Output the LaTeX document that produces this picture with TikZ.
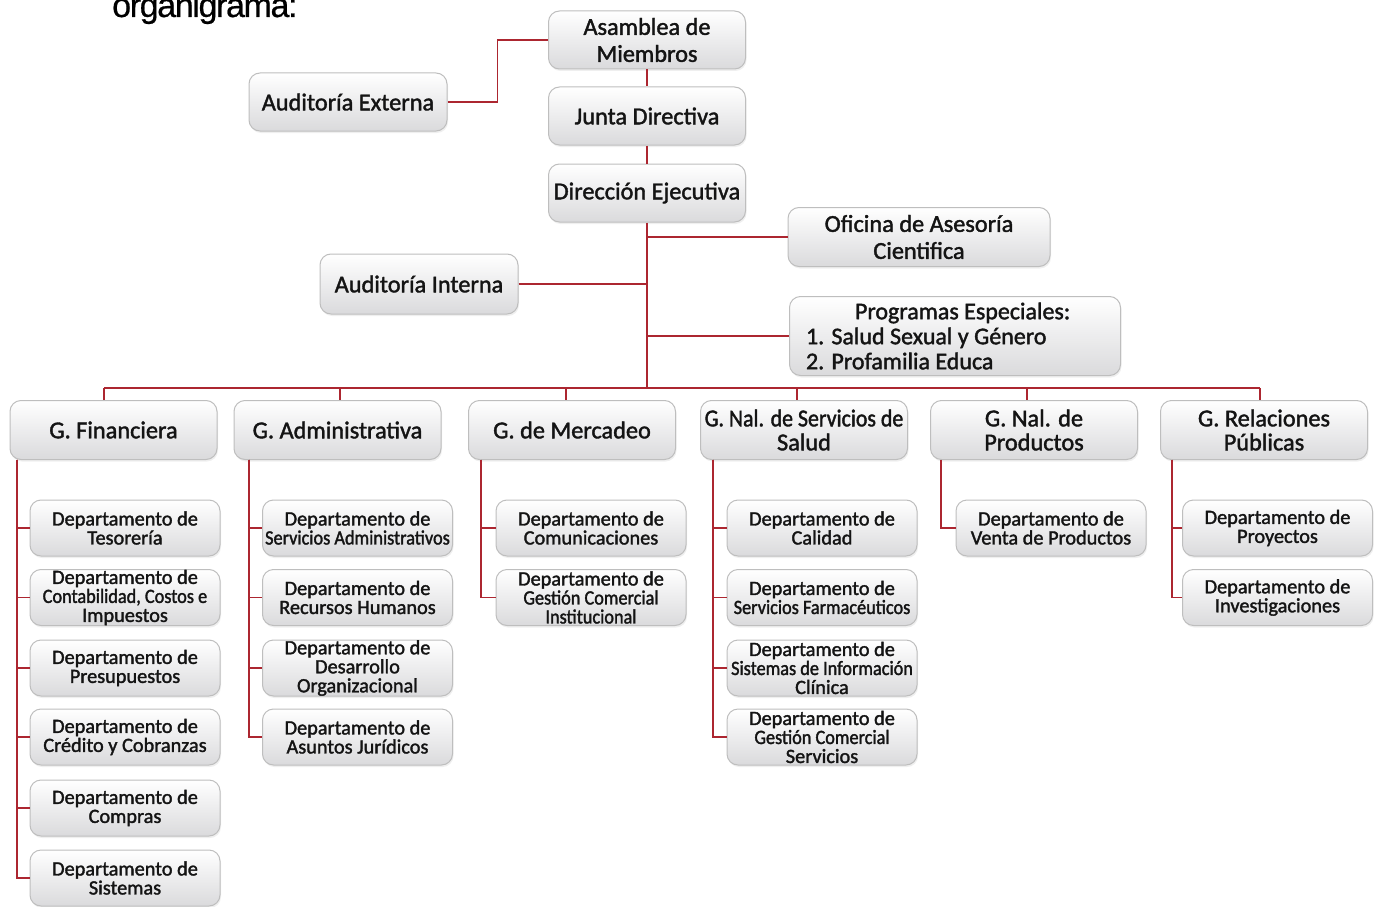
\documentclass[tikz,border=0pt]{standalone}
\usepackage{fontspec}
\setmainfont[FakeBold=1.6]{Carlito}
\newfontfamily\condfont[FakeStretch=0.9,FakeBold=1.6]{Carlito}
\newfontfamily\titlefont[LetterSpace=-4,FakeBold=0.6]{Liberation Sans}
\usetikzlibrary{shadows}
\definecolor{conn}{RGB}{172,38,48}
\definecolor{boxline}{RGB}{190,190,190}
\definecolor{boxbot}{RGB}{218,218,220}
\tikzset{
  box/.style={draw=boxline, line width=1pt, rounded corners=11pt,
    top color=white, bottom color=boxbot, align=center, inner sep=0pt,
    text=black!92, drop shadow={opacity=0.12, shadow xshift=1pt, shadow yshift=-2pt}},
  topbox/.style={box, minimum width=197pt, minimum height=58pt,
    font=\fontsize{24.3}{27}\selectfont},
  mgr/.style={box, minimum width=207pt, minimum height=59pt,
    font=\fontsize{24.3}{24}\selectfont},
  dept/.style={box, minimum width=190pt, minimum height=56pt,
    font=\fontsize{20.3}{19}\selectfont},
  link/.style={draw=conn, line width=1.7pt}
}
\begin{document}
\begin{tikzpicture}[x=1pt,y=-1pt]
\useasboundingbox[fill=white] (0,0) rectangle (1374,907);
% title
\node[anchor=base west, inner sep=0pt, font=\titlefont\fontsize{34}{34}\selectfont] (title) at (112,17) {organigrama:};
% top boxes
\node[topbox] (AM) at (647,40) {Asamblea de\\Miembros};
\node[topbox] (JD) at (647,116) {Junta Directiva};
\node[topbox] (DE) at (647,193) {Dirección Ejecutiva};
\node[topbox, minimum width=198pt] (AE) at (348,102) {Auditoría Externa};
\node[topbox, minimum width=262pt, minimum height=59pt] (OA) at (919,237) {Oficina de Asesoría\\Cientifica};
\node[topbox, minimum width=198pt, minimum height=60pt] (AI) at (419,284) {Auditoría Interna};
\node[topbox, minimum width=331pt, minimum height=79pt,
      font=\fontsize{24}{25}\selectfont] (PE) at (955,336)
  {\makebox[298pt][l]{\hspace*{49pt}Programas Especiales:}\\
   \makebox[298pt][l]{1. Salud Sexual y Género}\\
   \makebox[298pt][l]{2. Profamilia Educa}};
% managers
\node[mgr] (GF) at (113.5,430) {G. Financiera};
\node[mgr] (GA) at (337.5,430) {G. Administrativa};
\node[mgr] (GM) at (572,430) {G. de Mercadeo};
\node[mgr] (GS) at (804,430) {{\condfont G. Nal. de Servicios de}\\Salud};
\node[mgr] (GP) at (1034,430) {G. Nal. de\\Productos};
\node[mgr] (GR) at (1264,430) {G. Relaciones\\Públicas};
% departments: Financiera
\node[dept] (F1) at (125,528) {Departamento de\\Tesorería};
\node[dept] (F2) at (125,597.5) {Departamento de\\{\condfont Contabilidad, Costos e}\\Impuestos};
\node[dept] (F3) at (125,668) {Departamento de\\Presupuestos};
\node[dept] (F4) at (125,737) {Departamento de\\Crédito y Cobranzas};
\node[dept] (F5) at (125,808) {Departamento de\\Compras};
\node[dept] (F6) at (125,878) {Departamento de\\Sistemas};
% Administrativa
\node[dept] (A1) at (357.5,528) {Departamento de\\{\condfont Servicios Administrativos}};
\node[dept] (A2) at (357.5,597.5) {Departamento de\\Recursos Humanos};
\node[dept] (A3) at (357.5,668) {Departamento de\\Desarrollo\\Organizacional};
\node[dept] (A4) at (357.5,737) {Departamento de\\Asuntos Jurídicos};
% Mercadeo
\node[dept] (M1) at (591,528) {Departamento de\\Comunicaciones};
\node[dept] (M2) at (591,597.5) {Departamento de\\{\condfont Gestión Comercial}\\{\condfont Institucional}};
% Servicios de Salud
\node[dept] (S1) at (822,528) {Departamento de\\Calidad};
\node[dept] (S2) at (822,597.5) {Departamento de\\{\condfont Servicios Farmacéuticos}};
\node[dept] (S3) at (822,668) {Departamento de\\{\condfont Sistemas de Información}\\Clínica};
\node[dept] (S4) at (822,737) {Departamento de\\{\condfont Gestión Comercial}\\Servicios};
% Productos
\node[dept] (P1) at (1051,528) {Departamento de\\Venta de Productos};
% Relaciones
\node[dept] (R1) at (1277.5,528) {Departamento de\\Proyectos};
\node[dept] (R2) at (1277.5,597.5) {Departamento de\\Investigaciones};
% connectors top
\draw[link] (AE.east) -- ++(50,0) |- (AM.west);
\draw[link] (AM.south) -- (JD.north);
\draw[link] (JD.south) -- (DE.north);
\coordinate (busC) at (647,388);
\draw[link] (DE.south) -- (busC);
\draw[link] (OA.west -| DE.south) -- (OA.west);
\draw[link] (AI.east) -- (AI.east -| DE.south);
\draw[link] (PE.west -| DE.south) -- (PE.west);
% bus
\coordinate (d1) at (104,388);
\coordinate (d2) at (340,388);
\coordinate (d3) at (566,388);
\coordinate (d4) at (797,388);
\coordinate (d5) at (1027,388);
\coordinate (d6) at (1260,388);
\draw[link] (d1) -- (d6);
\foreach \d/\g in {d1/GF,d2/GA,d3/GM,d4/GS,d5/GP,d6/GR}
  \draw[link] (\d) -- (\d |- \g.north);
% department trunks
\coordinate (cF) at (17,459.5);
\coordinate (cA) at (249,459.5);
\coordinate (cM) at (481,459.5);
\coordinate (cS) at (713,459.5);
\coordinate (cP) at (941,459.5);
\coordinate (cR) at (1172,459.5);
\foreach \n in {F1,F2,F3,F4,F5,F6} \draw[link] (cF) |- (\n.west);
\foreach \n in {A1,A2,A3,A4} \draw[link] (cA) |- (\n.west);
\foreach \n in {M1,M2} \draw[link] (cM) |- (\n.west);
\foreach \n in {S1,S2,S3,S4} \draw[link] (cS) |- (\n.west);
\draw[link] (cP) |- (P1.west);
\foreach \n in {R1,R2} \draw[link] (cR) |- (\n.west);
\end{tikzpicture}
\end{document}
